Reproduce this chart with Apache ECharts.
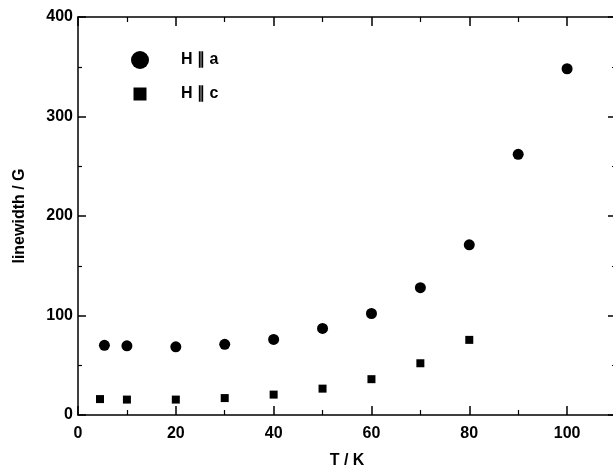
<!DOCTYPE html>
<html>
<head>
<meta charset="utf-8">
<script src="https://cdn.jsdelivr.net/npm/echarts@6/dist/echarts.min.js"></script>
<style>
  html, body { margin: 0; padding: 0; background: #fff; }
  #chart { width: 613px; height: 466px; }
</style>
</head>
<body>
<div id="chart"></div>
<script>
// Temperature (K) and EPR linewidth (G) for the two field orientations
const seriesNames = ['H \u2225 a', 'H \u2225 c'];
const tempA = [5.4, 10, 20, 30, 40, 50, 60, 70, 80, 90, 100];
const widthA = [70, 69.5, 68.5, 71, 76, 87, 102, 128, 171, 262, 348];
const tempC = [4.5, 10, 20, 30, 40, 50, 60, 70, 80];
const widthC = [16, 15.5, 15.5, 17, 20.5, 26.5, 36, 52, 75.5];
const xTicks = [0, 20, 40, 60, 80, 100];
const yTicks = [0, 100, 200, 300, 400];

const ink = '#000';
const font = 'Liberation Sans, Arial, Helvetica, sans-serif';

function pairs(xs, ys) { return xs.map((x, i) => [x, ys[i]]); }

function xAxisBase(extra) {
  return Object.assign({
    type: 'value', min: 0, max: 110, interval: 20,
    axisLine: { show: true, onZero: false, lineStyle: { color: ink, width: 1.5 } },
    axisTick: { show: true, inside: true, length: 9, lineStyle: { color: ink, width: 1.5 } },
    minorTick: { show: true, splitNumber: 2, length: 5, lineStyle: { color: ink, width: 1.2 } },
    splitLine: { show: false }
  }, extra);
}
function yAxisBase(extra) {
  return Object.assign({
    type: 'value', min: 0, max: 400, interval: 100,
    axisLine: { show: true, onZero: false, lineStyle: { color: ink, width: 1.5 } },
    axisTick: { show: true, inside: true, length: 8, lineStyle: { color: ink, width: 1.5 } },
    minorTick: { show: true, splitNumber: 2, length: 4, lineStyle: { color: ink, width: 1.2 } },
    splitLine: { show: false }
  }, extra);
}

const chart = echarts.init(document.getElementById('chart'), null, { renderer: 'canvas' });
chart.setOption({
  backgroundColor: '#fff',
  animation: false,
  grid: { left: 78, top: 17, width: 538, height: 398, containLabel: false, outerBoundsMode: 'none' },
  legend: [
    {
      data: [{ name: seriesNames[0], icon: 'circle' }],
      left: 126, top: 46, itemWidth: 18, itemHeight: 18,
      textStyle: { color: ink, fontFamily: font, fontWeight: 'bold', fontSize: 16, padding: [0, 0, 0, 27] }
    },
    {
      data: [{ name: seriesNames[1], icon: 'rect' }],
      left: 128.5, top: 81, itemWidth: 13, itemHeight: 13,
      textStyle: { color: ink, fontFamily: font, fontWeight: 'bold', fontSize: 16, padding: [0, 0, 0, 29.5] }
    }
  ],
  xAxis: [
    xAxisBase({
      position: 'bottom',
      name: 'T / K', nameLocation: 'middle', nameGap: 38,
      nameTextStyle: { color: ink, fontFamily: font, fontWeight: 'bold', fontSize: 16 },
      axisLabel: {
        color: ink, fontFamily: font, fontWeight: 'bold', fontSize: 16, margin: 11,
        formatter: v => (xTicks.indexOf(v) >= 0 ? String(v) : '')
      }
    }),
    xAxisBase({ position: 'top', axisLabel: { show: false } })
  ],
  yAxis: [
    yAxisBase({
      position: 'left',
      name: 'linewidth / G', nameLocation: 'middle', nameGap: 50, nameRotate: 90,
      nameTextStyle: { color: ink, fontFamily: font, fontWeight: 'bold', fontSize: 16 },
      axisLabel: {
        color: ink, fontFamily: font, fontWeight: 'bold', fontSize: 16, margin: 5,
        formatter: v => (yTicks.indexOf(v) >= 0 ? String(v) : '')
      }
    }),
    yAxisBase({ position: 'right', axisLabel: { show: false } })
  ],
  series: [
    {
      name: seriesNames[0], type: 'scatter', symbol: 'circle', symbolSize: 11,
      itemStyle: { color: ink, opacity: 1 }, data: pairs(tempA, widthA)
    },
    {
      name: seriesNames[1], type: 'scatter', symbol: 'rect', symbolSize: 8,
      itemStyle: { color: ink, opacity: 1 }, data: pairs(tempC, widthC)
    }
  ]
});
</script>
</body>
</html>
